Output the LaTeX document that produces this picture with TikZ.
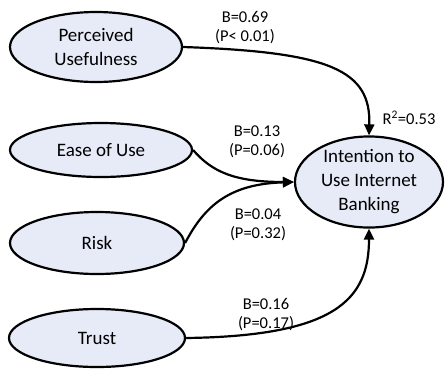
\documentclass[tikz,border=0pt]{standalone}
\usepackage{fontspec}
\setmainfont{Carlito}
\usetikzlibrary{shapes.geometric,arrows.meta}
\definecolor{ellfill}{RGB}{230,235,247}
\tikzset{
  construct/.style={ellipse, draw=black, line width=2.2pt, fill=ellfill, inner sep=0pt,
    align=center, font=\fontsize{19}{24}\selectfont},
  coef/.style={align=center, inner sep=0pt, font=\fontsize{16.5}{19}\selectfont},
  path/.style={line width=2.2pt, -{Triangle[length=11pt,width=10pt]}}
}
\begin{document}
\begin{tikzpicture}[x=1pt,y=-1pt]
\useasboundingbox (0,0) rectangle (448,368);
\node[construct, minimum width=172pt, minimum height=70pt] (pu) at (96,47) {Perceived\\Usefulness};
\node[construct, minimum width=182pt, minimum height=54pt] (eou) at (101,150) {Ease of Use};
\node[construct, minimum width=174pt, minimum height=62pt] (risk) at (97,243) {Risk};
\node[construct, minimum width=176pt, minimum height=58pt] (trust) at (97,338) {Trust};
\node[construct, minimum width=148pt, minimum height=90pt] (int) at (369,182) {Intention to\\Use Internet\\Banking};

\draw[path] (pu.east) .. controls (330,52) and (371,70) .. (int.north);
\draw[path] (eou.east) .. controls (212,172) and (235,182) .. (int.west);
\draw[path] (risk.east) .. controls (205,205) and (230,184) .. (int.west);
\draw[path] (trust.east) .. controls (335,336) and (369,300) .. (int.south);

\node[coef] (l1) at (245,28) {B=0.69\\(P< 0.01)};
\node[coef] (l2) at (257,142) {B=0.13\\(P=0.06)};
\node[coef] (l3) at (258,225) {B=0.04\\(P=0.32)};
\node[coef] (l4) at (266,315) {B=0.16\\(P=0.17)};
\node[coef] (r2) at (409,118) {R\textsuperscript{2}=0.53};
\end{tikzpicture}
\end{document}
